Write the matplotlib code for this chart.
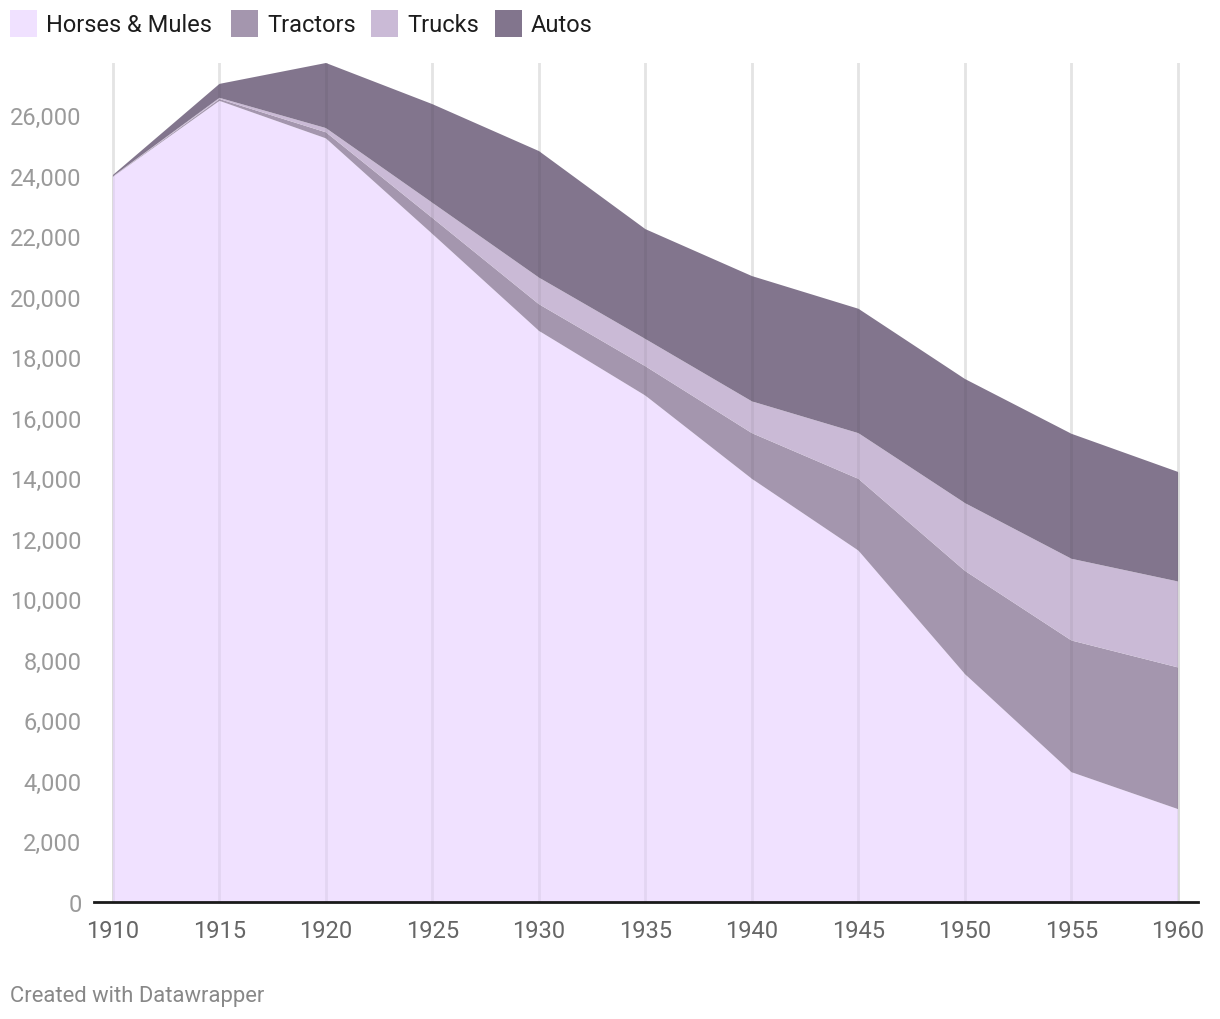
import matplotlib
matplotlib.use("Agg")
import matplotlib.pyplot as plt
from matplotlib.patches import Rectangle
import numpy as np

plt.rcParams['font.family'] = ['Roboto', 'DejaVu Sans']

years = [1910, 1915, 1920, 1925, 1930, 1935, 1940, 1945, 1950, 1955, 1960]
horses_mules = [23960, 26470, 25230, 22070, 18870, 16730, 13980, 11610, 7530, 4290, 3070]
tractors = [10, 60, 200, 530, 880, 970, 1510, 2370, 3410, 4350, 4680]
trucks = [10, 40, 140, 500, 880, 900, 1050, 1510, 2240, 2700, 2840]
autos = [40, 460, 2150, 3260, 4180, 3630, 4140, 4110, 4100, 4130, 3620]

series_names = ["Horses & Mules", "Tractors", "Trucks", "Autos"]
series_colors = ["#f0e1ff", "#a496ae", "#cabad6", "#82758d"]
y_ticks = list(range(0, 26001, 2000))

W, H = 1220, 1020
fig = plt.figure(figsize=(W / 100, H / 100), dpi=100)
ax = fig.add_axes([94 / W, (H - 903) / H, (1198 - 94) / W, (903 - 64) / H])

data = [horses_mules, tractors, trucks, autos]
ax.stackplot(years, *data, colors=series_colors, linewidth=0, zorder=2)

ax.set_xlim(1909.11, 1960.94)
ax.set_ylim(0, 27720)

totals = np.sum(np.array(data), axis=0)
# vertical gridlines: light grey behind, faint overlay on the areas only
for yr, tot in zip(years, totals):
    ax.axvline(yr, color='#e4e4e4', linewidth=2, zorder=1)
    ax.vlines(yr, 0, tot, color='black', alpha=0.05, linewidth=2, zorder=5)

for s in ['top', 'right', 'left']:
    ax.spines[s].set_visible(False)
ax.spines['bottom'].set_color('#1a1a1a')
ax.spines['bottom'].set_linewidth(2)
ax.spines['bottom'].set_zorder(6)

ax.set_xticks(years)
ax.set_xticklabels([str(y) for y in years], fontsize=17, color='#666666')
ax.set_yticks(y_ticks)
ax.set_yticklabels([f"{v:,}" for v in y_ticks], fontsize=17, color='#9a9a9a')
ax.tick_params(axis='x', length=0, pad=12)
ax.tick_params(axis='y', length=0, pad=9)

# legend
leg_x = [10, 231, 371, 495]
for name, col, x0 in zip(series_names, series_colors, leg_x):
    fig.patches.append(Rectangle((x0 / W, (H - 38) / H), 27 / W, 27 / H,
                                 transform=fig.transFigure, facecolor=col,
                                 edgecolor='none'))
    fig.text((x0 + 36) / W, (H - 26) / H, name, fontsize=17, color='#1d1d1d',
             ha='left', va='center')

fig.text(10 / W, (H - 997) / H, "Created with Datawrapper", fontsize=15.8,
         color='#888888', ha='left', va='center')

fig.savefig("out.png", dpi=100, facecolor='white')
